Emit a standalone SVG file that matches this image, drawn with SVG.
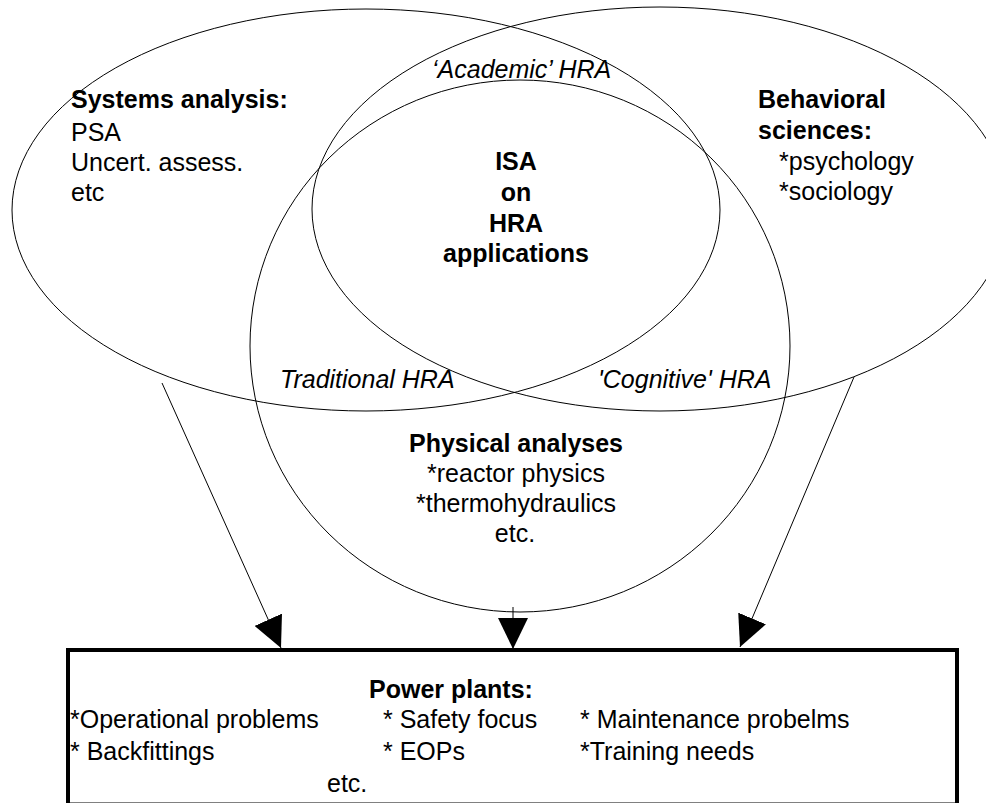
<svg xmlns="http://www.w3.org/2000/svg" width="986" height="803" viewBox="0 0 986 803">
<defs>
<style>
.ring{fill:none;stroke:#000;stroke-width:1}
.t{font-family:"Liberation Sans",Arial,sans-serif;font-size:25px;fill:#000}
.b{font-weight:bold}
.i{font-style:italic}
.c{text-anchor:middle}
.conn{stroke:#000;stroke-width:1;fill:none}
</style>
<marker id="ah" markerUnits="userSpaceOnUse" markerWidth="32" markerHeight="30" refX="31" refY="15" orient="auto">
<path d="M0,0 L31,15 L0,30 z" fill="#000"/>
</marker>
</defs>
<rect width="986" height="803" fill="#fff"/>
<g id="systems">
<ellipse class="ring" cx="366" cy="210" rx="354" ry="201"/>
<text class="t b" x="71" y="108">Systems analysis:</text>
<text class="t" x="71" y="141">PSA</text>
<text class="t" x="71" y="171">Uncert. assess.</text>
<text class="t" x="71" y="201">etc</text>
</g>
<g id="behavioral">
<ellipse class="ring" cx="660" cy="209" rx="348" ry="202"/>
<text class="t b" x="758" y="108">Behavioral</text>
<text class="t b" x="758" y="139">sciences:</text>
<text class="t" x="779" y="170">*psychology</text>
<text class="t" x="779" y="200">*sociology</text>
</g>
<g id="physical">
<ellipse class="ring" cx="520" cy="346" rx="270" ry="266"/>
<text class="t b c" x="516" y="452">Physical analyses</text>
<text class="t c" x="516" y="482">*reactor physics</text>
<text class="t c" x="516" y="512">*thermohydraulics</text>
<text class="t c" x="515" y="542">etc.</text>
</g>
<g id="isa">
<text class="t b c" x="516" y="170">ISA</text>
<text class="t b c" x="516" y="201">on</text>
<text class="t b c" x="516" y="232">HRA</text>
<text class="t b c" x="516" y="262">applications</text>
</g>
<g id="overlaps">
<text class="t i" x="432" y="78">‘Academic’ HRA</text>
<text class="t i" x="280" y="388">Traditional HRA</text>
<text class="t i" x="598" y="388">'Cognitive' HRA</text>
</g>
<g id="connectors">
<line class="conn" x1="162" y1="383" x2="281" y2="648" marker-end="url(#ah)"/>
<line class="conn" x1="513" y1="607" x2="513" y2="649" marker-end="url(#ah)"/>
<line class="conn" x1="854" y1="377" x2="740" y2="647" marker-end="url(#ah)"/>
</g>
<g id="powerplants">
<rect x="68" y="650" width="889" height="154.5" fill="none" stroke="#000" stroke-width="4"/>
<text class="t b" x="369" y="698">Power plants:</text>
<text class="t" x="70" y="728">*Operational problems</text>
<text class="t" x="383" y="728">* Safety focus</text>
<text class="t" x="580" y="728">* Maintenance probelms</text>
<text class="t" x="70" y="760">* Backfittings</text>
<text class="t" x="383" y="760">* EOPs</text>
<text class="t" x="580" y="760">*Training needs</text>
<text class="t" x="327" y="792">etc.</text>
</g>
</svg>
